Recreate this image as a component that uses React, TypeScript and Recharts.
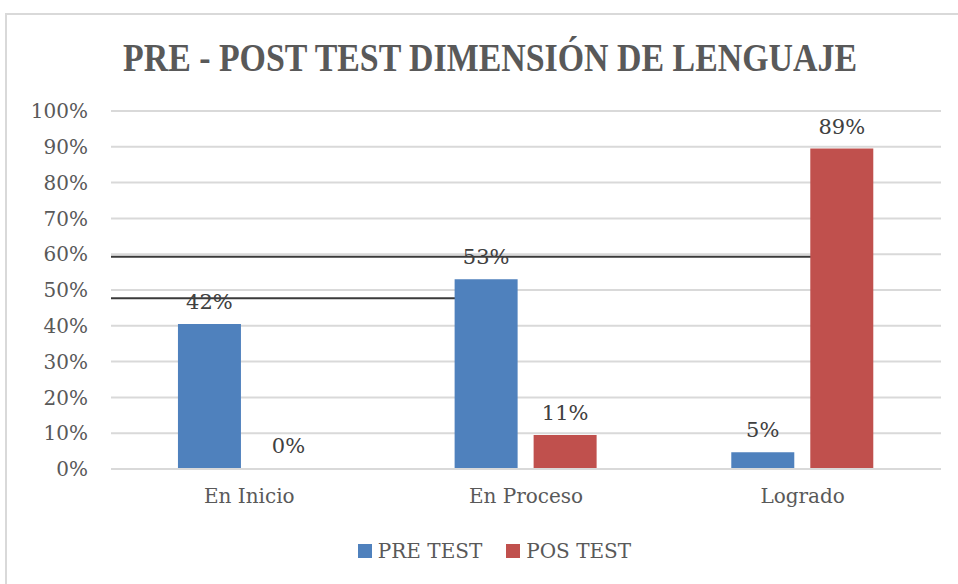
import React from 'react';
import {
  BarChart,
  Bar,
  XAxis,
  YAxis,
  CartesianGrid,
  LabelList,
  ReferenceLine,
} from 'recharts';

const categories = ['En Inicio', 'En Proceso', 'Logrado'];
const preTest = [40.5, 53, 4.7];
const posTest = [0, 9.5, 89.5];
const preLabels = ['42%', '53%', '5%'];
const posLabels = ['0%', '11%', '89%'];
const yTicks = [0, 10, 20, 30, 40, 50, 60, 70, 80, 90, 100];

// dark streaks that run across the plot in the source image
const streaks = [
  { y: 47.7, reach: 0.45 },
  { y: 59.3, reach: 0.88 },
];

const data = categories.map((name, i) => ({
  name,
  pre: preTest[i],
  pos: posTest[i],
  preLabel: preLabels[i],
  posLabel: posLabels[i],
}));

const FONT = '"DejaVu Serif", serif';
const TEXT = '#595959';
const BLUE = '#4F81BD';
const RED = '#C0504D';
const labelStyle = { fontFamily: FONT, fontSize: 21, fill: '#404040' };

const streakShape = (reach: number) => (props: any) => {
  const { x1, x2, y1 } = props;
  return <line x1={x1} x2={x1 + (x2 - x1) * reach} y1={y1} y2={y1} stroke="#3a3a3a" strokeWidth={2} />;
};

const App: React.FC = () => {
  return (
    <div style={{ position: 'absolute', left: 0, top: 0, width: 958, height: 584, overflow: 'hidden', background: '#fff' }}>
      <div
        style={{
          position: 'absolute',
          left: 5,
          top: 13,
          width: 1000,
          height: 700,
          border: '2px solid #d9d9d9',
        }}
      />
      <svg width={958} height={100} style={{ position: 'absolute', left: 0, top: 0 }}>
        <text
          x={123}
          y={0}
          transform="translate(0,71) scale(1,1.15)"
          textLength={734}
          lengthAdjust="spacingAndGlyphs"
          fontFamily='"Liberation Serif", serif'
          fontWeight="bold"
          fontSize={34}
          fill={TEXT}
        >
          PRE - POST TEST DIMENSIÓN DE LENGUAJE
        </text>
      </svg>
      <div style={{ position: 'absolute', left: 0, top: 0 }}>
        <BarChart
          width={958}
          height={584}
          data={data}
          margin={{ top: 111, right: 17, left: 31, bottom: 75 }}
          barCategoryGap="24.2%"
          barGap={16}
        >
          <CartesianGrid vertical={false} stroke="#d9d9d9" strokeWidth={2} />
          <XAxis
            dataKey="name"
            axisLine={{ stroke: '#d9d9d9', strokeWidth: 2 }}
            tickLine={false}
            tickMargin={14}
            height={40}
            tick={{ fontFamily: FONT, fontSize: 20, fill: TEXT }}
          />
          <YAxis
            domain={[0, 100]}
            ticks={yTicks}
            tickFormatter={(v: number) => `${v}%`}
            axisLine={false}
            tickLine={false}
            tickMargin={17}
            width={80}
            tick={{ fontFamily: FONT, fontSize: 20, fill: TEXT }}
            interval={0}
          />
          {streaks.map((s, i) => (
            <ReferenceLine key={i} y={s.y} shape={streakShape(s.reach)} zIndex={250} />
          ))}
          <Bar dataKey="pre" fill={BLUE} isAnimationActive={false}>
            <LabelList dataKey="preLabel" position="top" offset={15} style={labelStyle} />
          </Bar>
          <Bar dataKey="pos" fill={RED} minPointSize={1} isAnimationActive={false}>
            <LabelList dataKey="posLabel" position="top" offset={15} style={labelStyle} />
          </Bar>
        </BarChart>
      </div>
      <div
        style={{
          position: 'absolute',
          left: 0,
          top: 536,
          width: 958,
          display: 'flex',
          justifyContent: 'center',
          fontFamily: FONT,
          fontSize: 20,
          color: TEXT,
          lineHeight: '30px',
        }}
      >
        <div style={{ display: 'flex', alignItems: 'center', marginLeft: 31 }}>
          <span style={{ width: 14, height: 14, background: BLUE, marginRight: 6, display: 'inline-block' }} />
          <span>PRE TEST</span>
          <span style={{ width: 14, height: 14, background: RED, marginLeft: 24, marginRight: 6, display: 'inline-block' }} />
          <span>POS TEST</span>
        </div>
      </div>
    </div>
  );
};

export default App;
